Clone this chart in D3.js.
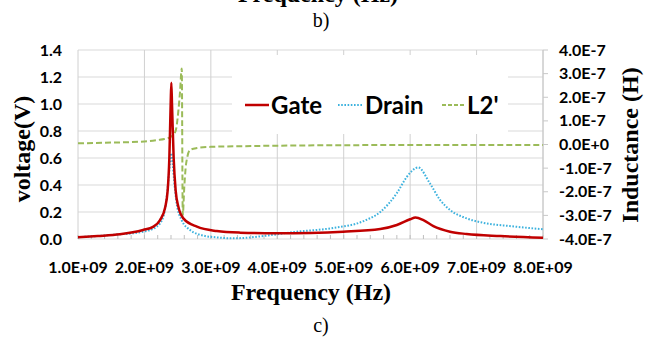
<!DOCTYPE html>
<html><head><meta charset="utf-8">
<script src="https://cdn.jsdelivr.net/npm/d3@7/dist/d3.min.js"></script>
<style>
html,body{margin:0;padding:0;background:#fff;}
svg{display:block;}
</style></head>
<body>
<svg id="c" width="662" height="337"></svg>
<script>
// ---------- data ----------
const gateFreq = [1.0,1.3,1.63,1.98,2.13,2.235,2.31,2.35,2.375,2.395,2.405,2.415,2.44,2.47,2.51,2.586,2.79,3.09,3.44,3.99,4.5,4.99,5.55,5.8,6.0,6.08,6.2,6.35,6.6,6.85,7.36,8.0];
const gateV    = [0.013,0.022,0.035,0.067,0.09,0.14,0.23,0.36,0.6,1.0,1.158,1.0,0.6,0.36,0.24,0.153,0.091,0.059,0.047,0.042,0.045,0.054,0.074,0.104,0.146,0.16,0.14,0.095,0.054,0.037,0.022,0.01];

const drainFreq = [1.0,1.5,1.98,2.18,2.285,2.335,2.385,2.405,2.425,2.446,2.486,2.56,2.687,2.89,3.09,3.3,3.5,3.79,4.29,4.8,5.3,5.55,5.8,5.95,6.12,6.3,6.45,6.6,6.85,7.1,7.5,8.0];
const drainV    = [0.013,0.03,0.054,0.09,0.165,0.31,0.56,0.635,0.56,0.44,0.26,0.14,0.067,0.025,0.012,0.005,0.008,0.022,0.054,0.079,0.133,0.2,0.34,0.46,0.53,0.41,0.29,0.215,0.153,0.12,0.096,0.072];

const l2Freq = [1.0,1.5,2.0,2.2,2.3,2.4,2.45,2.48,2.51,2.535,2.562,2.577,2.6,2.62,2.646,2.687,2.79,3.0,3.5,4.0,5.0,6.0,7.0,8.0];
const l2H    = [0.05,0.08,0.13,0.19,0.23,0.33,0.45,0.7,1.4,2.2,3.22,-2.98,-1.8,-1.0,-0.52,-0.23,-0.15,-0.1,-0.07,-0.05,-0.03,-0.02,-0.02,-0.02]; // x1e-7 H

const xTicks = [1,2,3,4,5,6,7,8];
const xTickLabels = ["1.0E+09","2.0E+09","3.0E+09","4.0E+09","5.0E+09","6.0E+09","7.0E+09","8.0E+09"];
const yLTicks = [0,0.2,0.4,0.6,0.8,1.0,1.2,1.4];
const yLTickLabels = ["0.0","0.2","0.4","0.6","0.8","1.0","1.2","1.4"];
const yRTicks = [-4,-3,-2,-1,0,1,2,3,4];
const yRTickLabels = ["-4.0E-7","-3.0E-7","-2.0E-7","-1.0E-7","0.0E+0","1.0E-7","2.0E-7","3.0E-7","4.0E-7"];
const seriesNames = ["Gate","Drain","L2'"];

// ---------- layout ----------
const L=78, R=543, T=50, B=239;
const svg = d3.select("#c");
const x = d3.scaleLinear().domain([1,8]).range([L,R]);
const yL = d3.scaleLinear().domain([0,1.4]).range([B,T]);
const yR = d3.scaleLinear().domain([-4,4]).range([B,T]);

const grid = svg.append("g");
// horizontal gridlines
grid.selectAll("line.h").data(yLTicks).join("line")
  .attr("x1",L).attr("x2",R).attr("y1",d=>yL(d)).attr("y2",d=>yL(d))
  .attr("stroke","#d9d9d9").attr("stroke-width",1);
// vertical gridlines
grid.selectAll("line.v").data(xTicks).join("line")
  .attr("x1",d=>x(d)).attr("x2",d=>x(d)).attr("y1",T).attr("y2",B)
  .attr("stroke","#d0d0d0").attr("stroke-width",1);
// minor ticks on bottom (inside)
const minor = d3.range(1,8.001,0.2);
grid.selectAll("line.m").data(minor).join("line")
  .attr("x1",d=>x(d)).attr("x2",d=>x(d)).attr("y1",B).attr("y2",B-4)
  .attr("stroke","#bfbfbf").attr("stroke-width",1);
// right axis line & ticks
grid.append("line").attr("x1",R).attr("x2",R).attr("y1",T).attr("y2",B).attr("stroke","#c8c8c8");
grid.selectAll("line.r").data(yRTicks).join("line")
  .attr("x1",R).attr("x2",R+5).attr("y1",d=>yR(d)).attr("y2",d=>yR(d))
  .attr("stroke","#c8c8c8");

// legend background box (white, covers gridlines)
svg.append("rect").attr("x",232).attr("y",55).attr("width",276).attr("height",79).attr("fill","#fff");

// ---------- lines ----------
const line = (fx, fy) => d3.line().x((d,i)=>x(fx[i])).y((d,i)=>fy(d)).curve(d3.curveMonotoneX);

svg.append("path").datum(l2H).attr("d", line(l2Freq, yR))
  .attr("fill","none").attr("stroke","#9bbb59").attr("stroke-width",2).attr("stroke-dasharray","6,3");
svg.append("path").datum(drainV).attr("d", line(drainFreq, yL))
  .attr("fill","none").attr("stroke","#3db2de").attr("stroke-width",2).attr("stroke-dasharray","1.6,1.6");
svg.append("path").datum(gateV).attr("d", line(gateFreq, yL))
  .attr("fill","none").attr("stroke","#c00000").attr("stroke-width",2.5);

// ---------- tick labels ----------
const tickFont = "Lato, 'Open Sans', sans-serif";
svg.append("g").selectAll("text").data(yLTicks).join("text")
  .attr("x",62).attr("y",d=>yL(d)+5.5).attr("text-anchor","end")
  .attr("font-family",tickFont).attr("font-weight","bold").attr("font-size",16)
  .text((d,i)=>yLTickLabels[i]);
svg.append("g").selectAll("text").data(yRTicks).join("text")
  .attr("x",559).attr("y",d=>yR(d)+5.5).attr("text-anchor","start")
  .attr("font-family",tickFont).attr("font-weight","bold").attr("font-size",16)
  .text((d,i)=>yRTickLabels[i]);
svg.append("g").selectAll("text").data(xTicks).join("text")
  .attr("x",d=>x(d)).attr("y",273).attr("text-anchor","middle")
  .attr("font-family",tickFont).attr("font-weight","bold").attr("font-size",16)
  .text((d,i)=>xTickLabels[i]);

// ---------- titles ----------
const serif = "'Liberation Serif','Times New Roman',serif";
svg.append("text").attr("x",311).attr("y",300).attr("text-anchor","middle")
  .attr("font-family",serif).attr("font-weight","bold").attr("font-size",24).text("Frequency (Hz)");
svg.append("text").attr("transform","translate(30,149) rotate(-90)").attr("text-anchor","middle")
  .attr("font-family",serif).attr("font-weight","bold").attr("font-size",24).text("voltage(V)");
svg.append("text").attr("transform","translate(638,145) rotate(-90)").attr("text-anchor","middle")
  .attr("font-family",serif).attr("font-weight","bold").attr("font-size",24).text("Inductance (H)");
svg.append("text").attr("x",321).attr("y",332).attr("text-anchor","middle")
  .attr("font-family",serif).attr("font-size",20).text("c)");
svg.append("text").attr("x",321).attr("y",27).attr("text-anchor","middle")
  .attr("font-family",serif).attr("font-size",20).text("b)");
svg.append("text").attr("x",318).attr("y",2).attr("text-anchor","middle")
  .attr("font-family",serif).attr("font-weight","bold").attr("font-size",24).text("Frequency (Hz)");

// ---------- legend ----------
const lg = svg.append("g");
const legItems = [
  {x0:245,x1:269,tx:271,color:"#c00000",dash:null,w:2.5},
  {x0:338,x1:362,tx:365,color:"#3db2de",dash:"1.6,1.6",w:2},
  {x0:442,x1:465,tx:467,color:"#9bbb59",dash:"4,2",w:2}
];
legItems.forEach((it,i)=>{
  lg.append("line").attr("x1",it.x0).attr("x2",it.x1).attr("y1",105).attr("y2",105)
    .attr("stroke",it.color).attr("stroke-width",it.w).attr("stroke-dasharray",it.dash);
  lg.append("text").attr("x",it.tx).attr("y",114).attr("font-family",tickFont)
    .attr("font-weight","bold").attr("font-size",24).attr("fill","#000").text(seriesNames[i]);
});
</script>
</body></html>
